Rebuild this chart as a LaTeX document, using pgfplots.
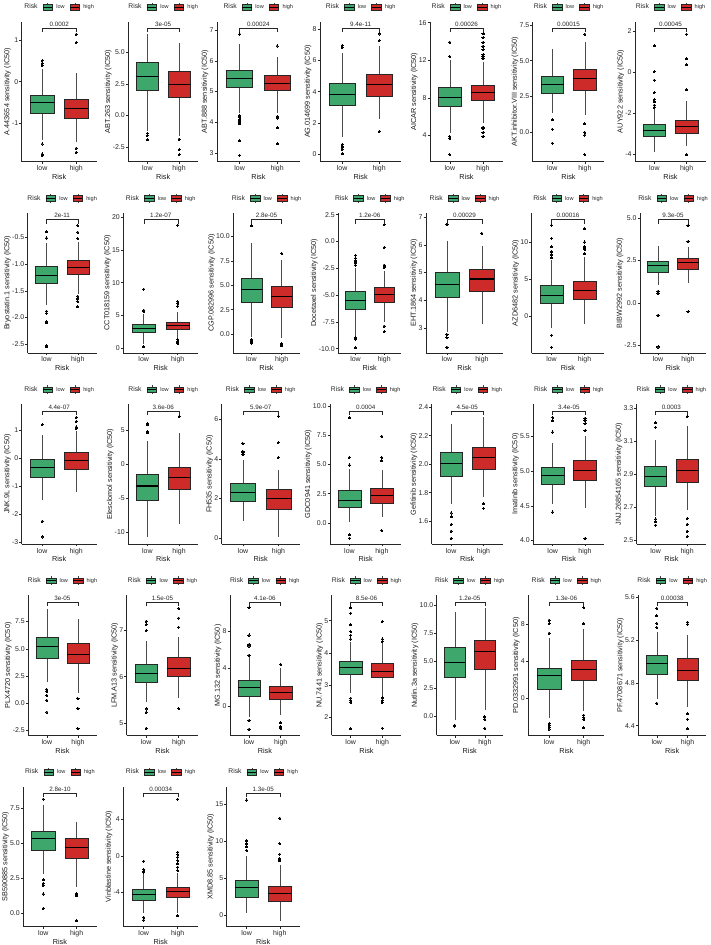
\documentclass[border=0pt]{standalone}
\usepackage{pgfplots}
\pgfplotsset{compat=1.18}
\usepgfplotslibrary{statistics}
\usepackage{fontspec}
\setmainfont{Liberation Sans}
\definecolor{gr}{RGB}{62,168,108}
\definecolor{rd}{RGB}{205,42,42}
\newsavebox\keylow
\newsavebox\keyhigh
\newsavebox\legbox
\pgfplotsset{
 pval/.initial={},
 bx/.style={
  anchor=north west, scale only axis, height=139.8bp,
  xmin=0.4, xmax=2.6, xtick={1,2}, xticklabels={low,high}, enlargelimits=false,
  xlabel={Risk}, clip=false,
  axis lines=left, axis line style={-, black!85, line width=0.45bp},
  tick align=outside, major tick length=2.3bp, tick style={black!85, line width=0.45bp},
  tick label style={font=\fontsize{7}{8}\selectfont, text=black!85},
  label style={font=\fontsize{7.3}{8}\selectfont, text=black!90},
  yticklabel style={inner sep=1bp},
  ylabel style={inner sep=0.5bp},
  ylabel shift=-0.5bp,
  xticklabel style={inner sep=1bp, yshift=-0.5bp},
  xlabel style={at={(0.5,0)}, anchor=north, inner sep=0pt, yshift=-12.5bp},
  title={\usebox\legbox}, title style={at={(0.5,1)}, anchor=south, yshift=4bp, inner sep=0pt},
  extra description/.code={
   \draw[black!85, line width=0.4bp] ([yshift=-10.6bp]0.2727,1) -- ([yshift=-6.6bp]0.2727,1) -- ([yshift=-6.6bp]0.7273,1) -- ([yshift=-10.6bp]0.7273,1);
   \node[anchor=south, inner sep=0pt, font=\fontsize{6.3}{7}\selectfont, text=black!85] at ([yshift=-5.3bp]0.5,1) {\pgfkeysvalueof{/pgfplots/pval}};
  },
 },
 bxs/.style={boxplot/draw direction=y, boxplot/box extend=0.7, boxplot/whisker extend=0,
  boxplot/every median/.style={draw=black, line width=1.1bp},
  boxplot/every whisker/.style={draw=black!70, line width=0.5bp},
  mark=*, mark size=1.05bp, mark options={fill=black, draw=black, line width=0pt}},
 lo/.style={bxs, boxplot/every box/.style={fill=gr, draw=black!85, line width=0.45bp}},
 hi/.style={bxs, boxplot/every box/.style={fill=rd, draw=black!85, line width=0.45bp}},
}
\begin{document}
\sbox\keylow{\tikz[baseline=0.9bp]{\draw[black!75,line width=0.4bp] (4.75bp,-1.6bp)--(4.75bp,7.1bp); \filldraw[fill=gr,draw=black!85,line width=0.4bp] (0,0) rectangle (9.5bp,5.5bp); \draw[line width=0.7bp] (0,2.75bp)--(9.5bp,2.75bp);}}%
\sbox\keyhigh{\tikz[baseline=0.9bp]{\draw[black!75,line width=0.4bp] (4.75bp,-1.6bp)--(4.75bp,7.1bp); \filldraw[fill=rd,draw=black!85,line width=0.4bp] (0,0) rectangle (9.5bp,5.5bp); \draw[line width=0.7bp] (0,2.75bp)--(9.5bp,2.75bp);}}%
\sbox\legbox{\fontsize{6.8}{7}\selectfont\color{black!85}Risk\hspace{5bp}\usebox\keylow\hspace{3.5bp}{\fontsize{5.6}{6}\selectfont low}\hspace{5bp}\usebox\keyhigh\hspace{3.5bp}{\fontsize{5.6}{6}\selectfont high}}%
\begin{tikzpicture}
% ---------------- Row 1
\begin{axis}[bx, at={(21.7bp,-21.7bp)}, width=74.9bp, ymin=-1.92, ymax=1.44, ytick={-1,0,1}, yticklabels={-1,0,1}, ylabel={A.443654 sensitivity (IC50)}, pval={0.0002}]
\addplot[lo, boxplot prepared={draw position=1, median=-0.50, lower quartile=-0.77, upper quartile=-0.32, lower whisker=-1.40, upper whisker=0.30}] coordinates {(1,0.50) (1,0.44) (1,0.39) (1,-1.50) (1,-1.74) (1,-1.77)};
\addplot[hi, boxplot prepared={draw position=2, median=-0.64, lower quartile=-0.88, upper quartile=-0.42, lower whisker=-1.45, upper whisker=0.20}] coordinates {(2,1.14) (2,0.94) (2,-1.60) (2,-1.70)};
\end{axis}
\begin{axis}[bx, at={(128.3bp,-21.7bp)}, width=69.8bp, ymin=-3.63, ymax=7.42, ytick={-2.5,0,2.5,5}, yticklabels={-2.5,0.0,2.5,5.0}, ylabel={ABT.263 sensitivity (IC50)}, pval={3e-05}]
\addplot[lo, boxplot prepared={draw position=1, median=3.08, lower quartile=2.03, upper quartile=4.21, lower whisker=-1.2, upper whisker=6.42}] coordinates {(1,-1.40) (1,-1.58) (1,-1.92)};
\addplot[hi, boxplot prepared={draw position=2, median=2.47, lower quartile=1.42, upper quartile=3.53, lower whisker=-1.6, upper whisker=5.70}] coordinates {(2,-1.87) (2,-2.71) (2,-3.10)};
\end{axis}
\begin{axis}[bx, at={(217bp,-21.7bp)}, width=82.7bp, ymin=2.73, ymax=7.27, ytick={3,4,5,6,7}, yticklabels={3,4,5,6,7}, ylabel={ABT.888 sensitivity (IC50)}, pval={0.00024}]
\addplot[lo, boxplot prepared={draw position=1, median=5.42, lower quartile=5.13, upper quartile=5.70, lower whisker=4.30, upper whisker=6.53}] coordinates {(1,6.87) (1,4.22) (1,4.16) (1,4.10) (1,4.05) (1,4.00) (1,3.95) (1,3.40) (1,2.93)};
\addplot[hi, boxplot prepared={draw position=2, median=5.25, lower quartile=5.03, upper quartile=5.53, lower whisker=4.30, upper whisker=6.13}] coordinates {(2,6.48) (2,4.18) (2,4.14) (2,3.82) (2,3.30)};
\end{axis}
\begin{axis}[bx, at={(320bp,-21.7bp)}, width=81.3bp, ymin=-0.49, ymax=8.49, ytick={0,2,4,6,8}, yticklabels={0,2,4,6,8}, ylabel={AG.014699 sensitivity (IC50)}, pval={9.4e-11}]
\addplot[lo, boxplot prepared={draw position=1, median=3.83, lower quartile=3.15, upper quartile=4.53, lower whisker=1.10, upper whisker=6.50}] coordinates {(1,6.96) (1,6.85) (1,0.60) (1,0.50) (1,0.40) (1,0.30) (1,0.00)};
\addplot[hi, boxplot prepared={draw position=2, median=4.47, lower quartile=3.68, upper quartile=5.09, lower whisker=2.22, upper whisker=6.90}] coordinates {(2,7.70) (2,7.27) (2,1.43)};
\end{axis}
\begin{axis}[bx, at={(430bp,-21.7bp)}, width=72.9bp, ymin=1.24, ymax=16.1, ytick={4,8,12,16}, yticklabels={4,8,12,16}, ylabel={AICAR sensitivity (IC50)}, pval={0.00026}]
\addplot[lo, boxplot prepared={draw position=1, median=8.04, lower quartile=7.08, upper quartile=9.10, lower whisker=4.25, upper whisker=12.0}] coordinates {(1,12.4) (1,13.9) (1,3.9) (1,3.7) (1,1.95)};
\addplot[hi, boxplot prepared={draw position=2, median=8.57, lower quartile=7.72, upper quartile=9.38, lower whisker=5.3, upper whisker=11.8}] coordinates {(2,12.2) (2,12.4) (2,12.6) (2,13.1) (2,13.5) (2,13.9) (2,14.4) (2,14.8) (2,4.9) (2,4.8) (2,4.3) (2,3.9)};
\end{axis}
\begin{axis}[bx, at={(532.7bp,-21.7bp)}, width=71.7bp, ymin=-2.05, ymax=7.73, ytick={0,2.5,5,7.5}, yticklabels={0.0,2.5,5.0,7.5}, ylabel={AKT.inhibitor.VIII sensitivity (IC50)}, pval={0.00015}]
\addplot[lo, boxplot prepared={draw position=1, median=3.31, lower quartile=2.73, upper quartile=3.94, lower whisker=1.33, upper whisker=5.80}] coordinates {(1,0.86) (1,0.21) (1,-0.77)};
\addplot[hi, boxplot prepared={draw position=2, median=3.73, lower quartile=2.97, upper quartile=4.43, lower whisker=1.20, upper whisker=6.30}] coordinates {(2,6.86) (2,0.58) (2,-0.02) (2,-0.20) (2,-1.58)};
\end{axis}
\begin{axis}[bx, at={(635bp,-21.7bp)}, width=71bp, ymin=-4.35, ymax=2.44, ytick={-4,-2,0,2}, yticklabels={-4,-2,0,2}, ylabel={AUY922 sensitivity (IC50)}, pval={0.00045}]
\addplot[lo, boxplot prepared={draw position=1, median=-2.85, lower quartile=-3.11, upper quartile=-2.55, lower whisker=-3.87, upper whisker=-1.80}] coordinates {(1,-1.72) (1,-1.61) (1,-1.45) (1,-1.34) (1,-1.0) (1,-0.4) (1,0.02) (1,1.27)};
\addplot[hi, boxplot prepared={draw position=2, median=-2.65, lower quartile=-2.98, upper quartile=-2.34, lower whisker=-3.62, upper whisker=-1.40}] coordinates {(2,-0.87) (2,0.34) (2,0.64) (2,1.83) (2,-4.03)};
\end{axis}
% ---------------- Row 2
\begin{axis}[bx, at={(27.7bp,-212.95bp)}, width=68.9bp, ymin=-2.66, ymax=-0.04, ytick={-2.5,-2,-1.5,-1,-0.5}, yticklabels={-2.5,-2.0,-1.5,-1.0,-0.5}, ylabel={Bryostatin.1 sensitivity (IC50)}, pval={2e-11}]
\addplot[lo, boxplot prepared={draw position=1, median=-1.21, lower quartile=-1.36, upper quartile=-1.04, lower whisker=-1.77, upper whisker=-0.60}] coordinates {(1,-0.39) (1,-0.51) (1,-1.88) (1,-1.92) (1,-2.08) (1,-2.10) (1,-2.53) (1,-2.55)};
\addplot[hi, boxplot prepared={draw position=2, median=-1.06, lower quartile=-1.19, upper quartile=-0.93, lower whisker=-1.55, upper whisker=-0.58}] coordinates {(2,-0.52) (2,-0.40) (2,-0.28) (2,-1.60) (2,-1.65) (2,-1.70) (2,-1.80)};
\end{axis}
\begin{axis}[bx, at={(123.3bp,-212.95bp)}, width=74.8bp, ymin=-0.72, ymax=20.67, ytick={0,5,10,15,20}, yticklabels={0,5,10,15,20}, ylabel={CCT018159 sensitivity (IC50)}, pval={1.2e-07}]
\addplot[lo, boxplot prepared={draw position=1, median=2.97, lower quartile=2.36, upper quartile=3.59, lower whisker=0.6, upper whisker=5.2}] coordinates {(1,5.6) (1,5.8) (1,9.0) (1,0.2)};
\addplot[hi, boxplot prepared={draw position=2, median=3.48, lower quartile=2.87, upper quartile=4.0, lower whisker=1.4, upper whisker=5.5}] coordinates {(2,6.4) (2,6.8) (2,7.1) (2,18.8) (2,1.3) (2,0.95) (2,0.7)};
\end{axis}
\begin{axis}[bx, at={(233.3bp,-212.95bp)}, width=66.4bp, ymin=-1.92, ymax=12.4, ytick={0,2.5,5,7.5,10}, yticklabels={0.0,2.5,5.0,7.5,10.0}, ylabel={CGP.082996 sensitivity (IC50)}, pval={2.8e-05}]
\addplot[lo, boxplot prepared={draw position=1, median=4.57, lower quartile=3.23, upper quartile=5.70, lower whisker=-0.3, upper whisker=9.3}] coordinates {(1,11.1) (1,-0.6) (1,-0.8) (1,-0.95)};
\addplot[hi, boxplot prepared={draw position=2, median=3.84, lower quartile=2.71, upper quartile=4.87, lower whisker=-0.4, upper whisker=7.6}] coordinates {(2,8.25) (2,-1.0) (2,-1.1) (2,-1.2)};
\end{axis}
\begin{axis}[bx, at={(338.3bp,-212.95bp)}, width=63bp, ymin=-10.38, ymax=2.66, ytick={-10,-7.5,-5,-2.5,0,2.5}, yticklabels={-10.0,-7.5,-5.0,-2.5,0.0,2.5}, ylabel={Docetaxel sensitivity (IC50)}, pval={1.2e-06}]
\addplot[lo, boxplot prepared={draw position=1, median=-5.47, lower quartile=-6.31, upper quartile=-4.63, lower whisker=-8.8, upper whisker=-2.5}] coordinates {(1,-2.2) (1,-2.0) (1,-1.8) (1,-1.55) (1,-1.3) (1,-9.0) (1,-9.1) (1,-9.9)};
\addplot[hi, boxplot prepared={draw position=2, median=-4.91, lower quartile=-5.69, upper quartile=-4.31, lower whisker=-7.5, upper whisker=-2.75}] coordinates {(2,-2.45) (2,-2.3) (2,-2.2) (2,-0.56) (2,1.56) (2,-7.9) (2,-8.4)};
\end{axis}
\begin{axis}[bx, at={(426bp,-212.95bp)}, width=76.9bp, ymin=2.1, ymax=7.16, ytick={3,4,5,6,7}, yticklabels={3,4,5,6,7}, ylabel={EHT.1864 sensitivity (IC50)}, pval={0.00029}]
\addplot[lo, boxplot prepared={draw position=1, median=4.58, lower quartile=4.12, upper quartile=5.01, lower whisker=2.85, upper whisker=6.15}] coordinates {(1,6.73) (1,2.76) (1,2.64) (1,2.30)};
\addplot[hi, boxplot prepared={draw position=2, median=4.77, lower quartile=4.32, upper quartile=5.14, lower whisker=3.15, upper whisker=5.95}] coordinates {(2,6.42)};
\end{axis}
\begin{axis}[bx, at={(531.7bp,-212.95bp)}, width=72.7bp, ymin=-4.86, ymax=13.9, ytick={0,5,10}, yticklabels={0,5,10}, ylabel={AZD6482 sensitivity (IC50)}, pval={0.00016}]
\addplot[lo, boxplot prepared={draw position=1, median=2.88, lower quartile=1.76, upper quartile=4.23, lower whisker=-1.5, upper whisker=7.6}] coordinates {(1,7.9) (1,8.3) (1,8.7) (1,9.4) (1,10.5) (1,12.25) (1,-2.52) (1,-4.1)};
\addplot[hi, boxplot prepared={draw position=2, median=3.47, lower quartile=2.34, upper quartile=4.68, lower whisker=-0.95, upper whisker=8.0}] coordinates {(2,8.4) (2,9.0) (2,9.2) (2,9.4) (2,10.0) (2,11.8)};
\end{axis}
\begin{axis}[bx, at={(640bp,-212.95bp)}, width=66bp, ymin=-2.94, ymax=5.3, ytick={-2.5,0,2.5,5}, yticklabels={-2.5,0.0,2.5,5.0}, ylabel={BIBW2992 sensitivity (IC50)}, pval={9.3e-05}]
\addplot[lo, boxplot prepared={draw position=1, median=2.19, lower quartile=1.80, upper quartile=2.47, lower whisker=1.05, upper whisker=3.38}] coordinates {(1,0.69) (1,0.55) (1,-0.73) (1,-2.60)};
\addplot[hi, boxplot prepared={draw position=2, median=2.40, lower quartile=2.0, upper quartile=2.63, lower whisker=1.15, upper whisker=3.30}] coordinates {(2,3.62) (2,4.57) (2,-0.53)};
\end{axis}
% ---------------- Row 3
\begin{axis}[bx, at={(21.7bp,-404.2bp)}, width=74.9bp, ymin=-3.05, ymax=1.91, ytick={-3,-2,-1,0,1}, yticklabels={-3,-2,-1,0,1}, ylabel={JNK.9L sensitivity (IC50)}, pval={4.4e-07}]
\addplot[lo, boxplot prepared={draw position=1, median=-0.33, lower quartile=-0.67, upper quartile=-0.04, lower whisker=-1.50, upper whisker=0.81}] coordinates {(1,1.18) (1,-2.24) (1,-2.80)};
\addplot[hi, boxplot prepared={draw position=2, median=-0.09, lower quartile=-0.38, upper quartile=0.20, lower whisker=-1.20, upper whisker=0.95}] coordinates {(2,1.04) (2,1.10) (2,1.30) (2,1.44)};
\end{axis}
\begin{axis}[bx, at={(128.3bp,-404.2bp)}, width=69.8bp, ymin=-11.67, ymax=8.77, ytick={-10,-5,0,5}, yticklabels={-10,-5,0,5}, ylabel={Elesclomol sensitivity (IC50)}, pval={3.6e-06}]
\addplot[lo, boxplot prepared={draw position=1, median=-3.19, lower quartile=-5.20, upper quartile=-1.47, lower whisker=-10.7, upper whisker=3.4}] coordinates {(1,4.6) (1,4.75) (1,5.75) (1,5.95)};
\addplot[hi, boxplot prepared={draw position=2, median=-1.96, lower quartile=-3.73, upper quartile=-0.49, lower whisker=-8.7, upper whisker=4.5}] coordinates {(2,6.96)};
\end{axis}
\begin{axis}[bx, at={(221.7bp,-404.2bp)}, width=78bp, ymin=-0.3, ymax=6.76, ytick={0,2,4,6}, yticklabels={0,2,4,6}, ylabel={FH535 sensitivity (IC50)}, pval={5.9e-07}]
\addplot[lo, boxplot prepared={draw position=1, median=2.32, lower quartile=1.85, upper quartile=2.75, lower whisker=0.88, upper whisker=3.95}] coordinates {(1,4.2) (1,4.3) (1,4.38) (1,4.77)};
\addplot[hi, boxplot prepared={draw position=2, median=2.0, lower quartile=1.44, upper quartile=2.47, lower whisker=0.03, upper whisker=3.45}] coordinates {(2,4.07) (2,4.83) (2,6.15)};
\end{axis}
\begin{axis}[bx, at={(330bp,-404.2bp)}, width=71.3bp, ymin=-1.8, ymax=10.15, ytick={0,2.5,5,7.5,10}, yticklabels={0.0,2.5,5.0,7.5,10.0}, ylabel={GDC0941 sensitivity (IC50)}, pval={0.0004}]
\addplot[lo, boxplot prepared={draw position=1, median=1.94, lower quartile=1.34, upper quartile=2.76, lower whisker=0.05, upper whisker=4.6}] coordinates {(1,4.95) (1,5.6) (1,9.0) (1,-1.0) (1,-1.3)};
\addplot[hi, boxplot prepared={draw position=2, median=2.36, lower quartile=1.7, upper quartile=2.93, lower whisker=0.49, upper whisker=4.5}] coordinates {(2,5.3) (2,5.6) (2,7.4) (2,-0.65)};
\end{axis}
\begin{axis}[bx, at={(431.7bp,-404.2bp)}, width=71.2bp, ymin=1.44, ymax=2.42, ytick={1.6,1.8,2.0,2.2,2.4}, yticklabels={1.6,1.8,2.0,2.2,2.4}, ylabel={Gefitinib sensitivity (IC50)}, pval={4.5e-05}]
\addplot[lo, boxplot prepared={draw position=1, median=2.007, lower quartile=1.913, upper quartile=2.08, lower whisker=1.72, upper whisker=2.28}] coordinates {(1,1.657) (1,1.63) (1,1.577) (1,1.53) (1,1.48)};
\addplot[hi, boxplot prepared={draw position=2, median=2.045, lower quartile=1.967, upper quartile=2.117, lower whisker=1.77, upper whisker=2.33}] coordinates {(2,1.723) (2,1.69)};
\end{axis}
\begin{axis}[bx, at={(533.3bp,-404.2bp)}, width=71.1bp, ymin=3.95, ymax=5.96, ytick={4,4.5,5,5.5}, yticklabels={4.0,4.5,5.0,5.5}, ylabel={Imatinib sensitivity (IC50)}, pval={3.4e-05}]
\addplot[lo, boxplot prepared={draw position=1, median=4.94, lower quartile=4.81, upper quartile=5.06, lower whisker=4.52, upper whisker=5.40}] coordinates {(1,5.56) (1,5.72) (1,5.77) (1,4.41)};
\addplot[hi, boxplot prepared={draw position=2, median=5.01, lower quartile=4.87, upper quartile=5.15, lower whisker=4.47, upper whisker=5.50}] coordinates {(2,5.58) (2,5.68) (2,5.72) (2,5.76) (2,4.03)};
\end{axis}
\begin{axis}[bx, at={(636.7bp,-404.2bp)}, width=69.3bp, ymin=2.475, ymax=3.325, ytick={2.5,2.7,2.9,3.1,3.3}, yticklabels={2.5,2.7,2.9,3.1,3.3}, ylabel={JNJ.26854165 sensitivity (IC50)}, pval={0.0003}]
\addplot[lo, boxplot prepared={draw position=1, median=2.886, lower quartile=2.825, upper quartile=2.946, lower whisker=2.645, upper whisker=3.106}] coordinates {(1,3.185) (1,3.213) (1,2.627) (1,2.61) (1,2.59)};
\addplot[hi, boxplot prepared={draw position=2, median=2.922, lower quartile=2.85, upper quartile=2.99, lower whisker=2.68, upper whisker=3.19}] coordinates {(2,3.25) (2,2.63) (2,2.594) (2,2.553) (2,2.52)};
\end{axis}
% ---------------- Row 4
\begin{axis}[bx, at={(28.3bp,-595.45bp)}, width=68.3bp, ymin=-2.96, ymax=9.9, ytick={-2.5,0,2.5,5,7.5}, yticklabels={-2.5,0.0,2.5,5.0,7.5}, ylabel={PLX4720 sensitivity (IC50)}, pval={3e-05}]
\addplot[lo, boxplot prepared={draw position=1, median=5.21, lower quartile=4.14, upper quartile=6.07, lower whisker=1.95, upper whisker=8.7}] coordinates {(1,1.23) (1,1.07) (1,0.7) (1,0.25) (1,-0.83)};
\addplot[hi, boxplot prepared={draw position=2, median=4.48, lower quartile=3.68, upper quartile=5.55, lower whisker=0.9, upper whisker=7.75}] coordinates {(2,0.4) (2,-0.5) (2,-2.35)};
\end{axis}
\begin{axis}[bx, at={(126.7bp,-595.45bp)}, width=71.4bp, ymin=4.73, ymax=7.76, ytick={5,6,7}, yticklabels={5,6,7}, ylabel={LFM.A13 sensitivity (IC50)}, pval={1.5e-05}]
\addplot[lo, boxplot prepared={draw position=1, median=6.07, lower quartile=5.89, upper quartile=6.28, lower whisker=5.45, upper whisker=6.78}] coordinates {(1,7.0) (1,7.13) (1,7.2) (1,5.3) (1,5.23) (1,4.88)};
\addplot[hi, boxplot prepared={draw position=2, median=6.17, lower quartile=6.01, upper quartile=6.42, lower whisker=5.53, upper whisker=6.87}] coordinates {(2,7.07) (2,7.27) (2,7.48) (2,5.31)};
\end{axis}
\begin{axis}[bx, at={(230bp,-595.45bp)}, width=69.7bp, ymin=-3.14, ymax=11.8, ytick={0,4,8}, yticklabels={0,4,8}, ylabel={MG.132 sensitivity (IC50)}, pval={4.1e-06}]
\addplot[lo, boxplot prepared={draw position=1, median=1.96, lower quartile=1.07, upper quartile=2.75, lower whisker=-1.2, upper whisker=5.2}] coordinates {(1,5.43) (1,6.4) (1,6.57) (1,7.57) (1,10.5) (1,-1.54) (1,-1.6) (1,-2.5)};
\addplot[hi, boxplot prepared={draw position=2, median=1.39, lower quartile=0.68, upper quartile=2.14, lower whisker=-1.0, upper whisker=4.1}] coordinates {(2,4.43) (2,-1.82) (2,-2.25) (2,-2.43)};
\end{axis}
\begin{axis}[bx, at={(331.7bp,-595.45bp)}, width=69.6bp, ymin=1.45, ymax=5.78, ytick={2,3,4,5}, yticklabels={2,3,4,5}, ylabel={NU.7441 sensitivity (IC50)}, pval={8.5e-06}]
\addplot[lo, boxplot prepared={draw position=1, median=3.55, lower quartile=3.34, upper quartile=3.75, lower whisker=2.77, upper whisker=4.35}] coordinates {(1,4.43) (1,4.55) (1,4.66) (1,4.87) (1,5.23) (1,5.4) (1,2.6) (1,2.53) (1,2.47) (1,1.65)};
\addplot[hi, boxplot prepared={draw position=2, median=3.43, lower quartile=3.24, upper quartile=3.67, lower whisker=2.66, upper whisker=4.3}] coordinates {(2,4.43) (2,4.36) (2,4.97) (2,2.61) (2,2.53) (2,2.47) (2,1.67)};
\end{axis}
\begin{axis}[bx, at={(436.7bp,-595.45bp)}, width=66.2bp, ymin=-1.72, ymax=10.9, ytick={0,2.5,5,7.5,10}, yticklabels={0.0,2.5,5.0,7.5,10.0}, ylabel={Nutlin.3a sensitivity (IC50)}, pval={1.2e-05}]
\addplot[lo, boxplot prepared={draw position=1, median=4.84, lower quartile=3.48, upper quartile=6.25, lower whisker=-0.36, upper whisker=9.45}] coordinates {(1,-0.82) (1,-0.9)};
\addplot[hi, boxplot prepared={draw position=2, median=5.83, lower quartile=4.23, upper quartile=6.86, lower whisker=0.55, upper whisker=9.8}] coordinates {(2,-0.06) (2,-0.27) (2,-1.1)};
\end{axis}
\begin{axis}[bx, at={(528.3bp,-595.45bp)}, width=76.1bp, ymin=-3.96, ymax=11.05, ytick={0,4,8}, yticklabels={0,4,8}, ylabel={PD.0332991 sensitivity (IC50)}, pval={1.3e-06}]
\addplot[lo, boxplot prepared={draw position=1, median=2.41, lower quartile=0.97, upper quartile=3.21, lower whisker=-2.16, upper whisker=6.5}] coordinates {(1,7.0) (1,8.0) (1,8.4) (1,-2.7) (1,-2.9) (1,-3.1) (1,-3.3)};
\addplot[hi, boxplot prepared={draw position=2, median=3.1, lower quartile=1.9, upper quartile=4.1, lower whisker=-1.4, upper whisker=7.5}] coordinates {(2,8.0) (2,9.75) (2,-1.8) (2,-2.05) (2,-2.27) (2,-3.17)};
\end{axis}
\begin{axis}[bx, at={(638.3bp,-595.45bp)}, width=67.7bp, ymin=4.31, ymax=5.62, ytick={4.4,4.8,5.2,5.6}, yticklabels={4.4,4.8,5.2,5.6}, ylabel={PF.4708671 sensitivity (IC50)}, pval={0.00038}]
\addplot[lo, boxplot prepared={draw position=1, median=4.98, lower quartile=4.885, upper quartile=5.06, lower whisker=4.65, upper whisker=5.28}] coordinates {(1,5.32) (1,5.36) (1,5.43) (1,5.5) (1,4.61)};
\addplot[hi, boxplot prepared={draw position=2, median=4.92, lower quartile=4.83, upper quartile=5.03, lower whisker=4.575, upper whisker=5.25}] coordinates {(2,5.35) (2,5.37) (2,4.51) (2,4.46) (2,4.37)};
\end{axis}
% ---------------- Row 5
\begin{axis}[bx, at={(23.3bp,-786.7bp)}, width=73.3bp, ymin=-0.96, ymax=9.06, ytick={0,2.5,5,7.5}, yticklabels={0.0,2.5,5.0,7.5}, ylabel={SB590885 sensitivity (IC50)}, pval={2.8e-10}]
\addplot[lo, boxplot prepared={draw position=1, median=5.34, lower quartile=4.52, upper quartile=5.89, lower whisker=2.83, upper whisker=7.75}] coordinates {(1,8.17) (1,2.38) (1,2.14) (1,1.97) (1,1.37) (1,0.34)};
\addplot[hi, boxplot prepared={draw position=2, median=4.71, lower quartile=3.9, upper quartile=5.34, lower whisker=1.84, upper whisker=6.52}] coordinates {(2,1.4) (2,1.25) (2,-0.55)};
\end{axis}
\begin{axis}[bx, at={(123.3bp,-786.7bp)}, width=74.8bp, ymin=-7.81, ymax=7.63, ytick={-4,0,4}, yticklabels={-4,0,4}, ylabel={Vinblastine sensitivity (IC50)}, pval={0.00034}]
\addplot[lo, boxplot prepared={draw position=1, median=-4.3, lower quartile=-4.89, upper quartile=-3.67, lower whisker=-6.37, upper whisker=-1.9}] coordinates {(1,-1.8) (1,-1.7) (1,-1.5) (1,-0.6) (1,-6.8) (1,-7.1)};
\addplot[hi, boxplot prepared={draw position=2, median=-3.96, lower quartile=-4.59, upper quartile=-3.48, lower whisker=-6.3, upper whisker=-1.9}] coordinates {(2,-1.63) (2,-1.26) (2,-0.89) (2,-0.52) (2,-0.15) (2,0.15) (2,0.4) (2,6.26) (2,-6.63)};
\end{axis}
\begin{axis}[bx, at={(226.7bp,-786.7bp)}, width=73bp, ymin=-1.58, ymax=17.3, ytick={0,5,10,15}, yticklabels={0,5,10,15}, ylabel={XMD8.85 sensitivity (IC50)}, pval={1.3e-05}]
\addplot[lo, boxplot prepared={draw position=1, median=3.67, lower quartile=2.35, upper quartile=4.71, lower whisker=0.3, upper whisker=8.0}] coordinates {(1,8.7) (1,9.2) (1,9.6) (1,10.0) (1,15.5)};
\addplot[hi, boxplot prepared={draw position=2, median=2.9, lower quartile=1.9, upper quartile=3.89, lower whisker=-0.8, upper whisker=6.7}] coordinates {(2,7.3) (2,7.55) (2,8.2) (2,9.6) (2,13.05)};
\end{axis}
\pgfresetboundingbox
\path[use as bounding box] (0,0) rectangle (711bp,-945bp);
\end{tikzpicture}
\end{document}
